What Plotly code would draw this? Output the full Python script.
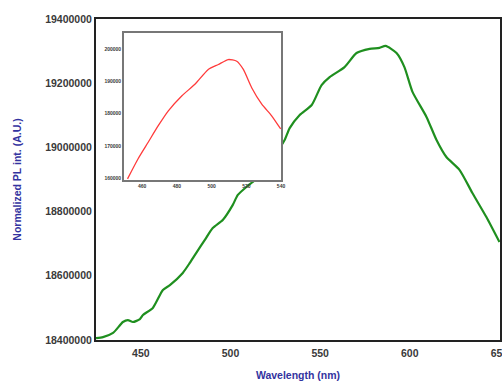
import plotly.graph_objects as go

# Main PL spectrum (green)
wavelength = [425, 428.9, 434.5, 440.0, 442.8, 445.6, 449.5, 451.2, 456.7, 462.3, 466.2,
              473.4, 477.3, 481.2, 485.7, 490.1, 495.7, 501.3, 504.1, 509.6, 513.5, 517.4,
              520.8, 526.3, 530.2, 533.0, 538.6, 545.3, 550.8, 555.3, 563.6, 570.3, 577.6,
              583.1, 586.5, 592.6, 597.0, 601.5, 609.3, 614.9, 620.4, 627.7, 634.9, 642.7, 650.0]
intensity = [18406000, 18409000, 18422000, 18456000, 18462000, 18456000, 18465000, 18478000,
             18500000, 18556000, 18571000, 18609000, 18640000, 18674000, 18712000, 18749000,
             18774000, 18821000, 18852000, 18880000, 18898000, 18945000, 18983000, 18992000,
             19023000, 19060000, 19101000, 19132000, 19194000, 19219000, 19250000, 19294000,
             19307000, 19310000, 19316000, 19294000, 19250000, 19173000, 19095000, 19023000,
             18970000, 18930000, 18858000, 18783000, 18705000]

# Inset spectrum (red)
inset_wl = [451.6, 457.7, 463.5, 469.3, 475.1, 482.8, 490.4, 498.1, 503.9, 509.6, 514.5,
            518.3, 523.1, 528.9, 534.6, 539.8]
inset_int = [159800, 166040, 171150, 176280, 180900, 185520, 189115, 193730, 195270, 196810,
             196280, 193730, 188070, 182960, 179360, 175270]

main_yticks = [18400000, 18600000, 18800000, 19000000, 19200000, 19400000]
main_xticks = [450, 500, 550, 600, 650]
inset_yticks = [160000, 170000, 180000, 190000, 200000]
inset_xticks = [460, 480, 500, 520, 540]

fig = go.Figure()
fig.add_trace(go.Scatter(x=wavelength, y=intensity, mode="lines",
                         line=dict(color="#1f8f1f", width=2.2, shape="spline", smoothing=0.6),
                         xaxis="x", yaxis="y", showlegend=False, cliponaxis=False))
fig.add_trace(go.Scatter(x=inset_wl, y=inset_int, mode="lines",
                         line=dict(color="#ff3b3b", width=1.3, shape="spline", smoothing=0.6),
                         xaxis="x2", yaxis="y2", showlegend=False))

tickfont = dict(family="Liberation Sans, Arial", size=10.5, color="#3a3a3a", weight="bold")
titlefont = dict(family="Liberation Sans, Arial", size=10.5, color="#3333a0")
small = dict(family="Liberation Sans, Arial", size=5, color="#3a3a3a", weight="bold")

fig.update_layout(
    width=502, height=383,
    margin=dict(l=96, r=2, t=19, b=43, autoexpand=False),
    plot_bgcolor="white", paper_bgcolor="white",
    xaxis=dict(range=[425, 650.3], tickvals=main_xticks, ticktext=[str(v) for v in main_xticks],
               showgrid=False, zeroline=False, showline=True, linecolor="#222", linewidth=2,
               mirror=True, ticks="", tickfont=tickfont, ticklabelstandoff=2,
               ticklabeloverflow="allow", automargin=False,
               title=dict(text="<b>Wavelength (nm)</b>", font=titlefont, standoff=14)),
    yaxis=dict(range=[18400000, 19400000], tickvals=main_yticks,
               ticktext=[str(v) for v in main_yticks], automargin=False,
               showgrid=False, zeroline=False, showline=True, linecolor="#222", linewidth=2,
               mirror=True, ticks="", tickfont=tickfont, ticklabelstandoff=0,
               title=dict(text="<b>Normalized PL int. (A.U.)</b>", font=titlefont, standoff=22)),
    xaxis2=dict(domain=[0.069, 0.458], anchor="y2", range=[449.5, 540], tickvals=inset_xticks,
                ticktext=[str(v) for v in inset_xticks], showgrid=False, zeroline=False,
                showline=True, linecolor="#777", linewidth=1.5, mirror=True, ticks="",
                tickfont=small),
    yaxis2=dict(domain=[0.498, 0.955], anchor="x2", range=[159400, 204900], tickvals=inset_yticks,
                ticktext=[str(v) for v in inset_yticks], showgrid=False, zeroline=False,
                showline=True, linecolor="#777", linewidth=1.5, mirror=True, ticks="",
                tickfont=small, ticklabelstandoff=0),
)

fig.write_html("out.html")
